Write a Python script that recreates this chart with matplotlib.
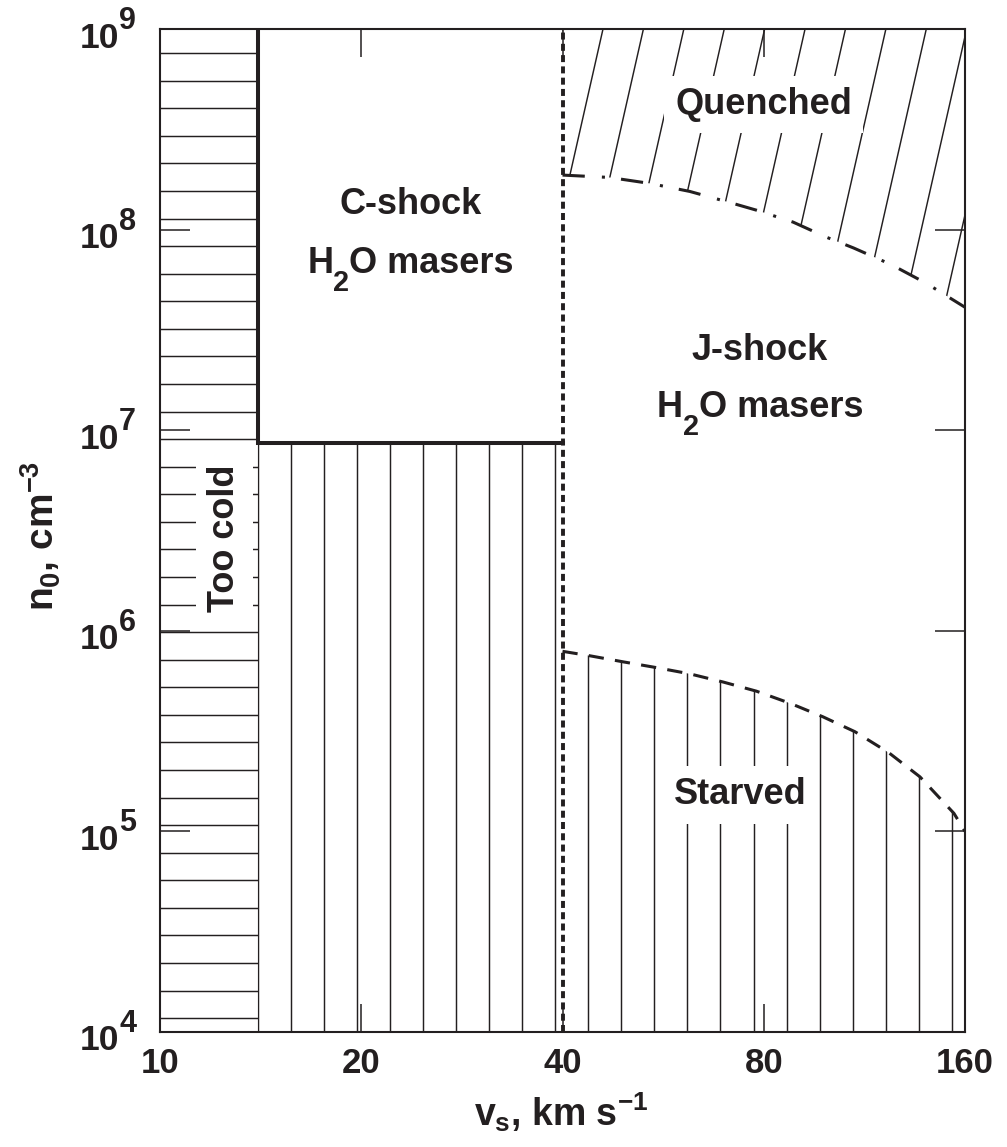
import matplotlib.pyplot as plt
import numpy as np
from matplotlib.patches import Polygon
from matplotlib.ticker import NullLocator

plt.rcParams['font.family'] = 'Liberation Sans'
plt.rcParams['font.weight'] = 'bold'
plt.rcParams['axes.labelweight'] = 'bold'
plt.rcParams['mathtext.fontset'] = 'custom'
for k in ('rm', 'it', 'bf', 'sf'):
    plt.rcParams['mathtext.' + k] = 'Liberation Sans:bold'

INK = '#231f20'

# axes
v_ticks = [10, 20, 40, 80, 160]
n_exps = [4, 5, 6, 7, 8, 9]
n_ticks = [10.0 ** e for e in n_exps]

# region boundaries
v_cold = 14.0     # below this: too cold
v_cj = 40.0       # C-shock / J-shock transition
n_cmax = 8.6e6    # C-shock masers only above this density

# quenched boundary (upper limit for J-shock masers)
quench_v = [40, 47, 54, 62, 72, 78, 88.5, 99, 109, 124, 140, 160]
quench_n = [1.87e8, 1.82e8, 1.70e8, 1.55e8, 1.35e8, 1.25e8, 1.09e8,
            9.2e7, 8.1e7, 6.7e7, 5.4e7, 4.1e7]

# starved boundary (lower limit for J-shock masers)
starve_v = [40, 44, 49.3, 55.3, 62, 69.6, 78, 87.6, 98, 109.5, 123, 137, 154, 160]
starve_n = [7.9e5, 7.5e5, 7.0e5, 6.55e5, 6.1e5, 5.55e5, 5.0e5, 4.35e5,
            3.73e5, 3.14e5, 2.47e5, 1.87e5, 1.23e5, 1.0e5]

fig = plt.figure(figsize=(10.07, 11.47), dpi=100)
ax = fig.add_axes([0.1589, 0.1003, 0.7994, 0.8744])
ax.set_xscale('log')
ax.set_yscale('log')
ax.set_xlim(v_ticks[0], v_ticks[-1])
ax.set_ylim(n_ticks[0], n_ticks[-1])

PX = 0.72  # points per pixel at 100 dpi
rend = fig.canvas.get_renderer()


def xfrac(v):
    return np.log(v / v_ticks[0]) / np.log(v_ticks[-1] / v_ticks[0])


def hatch(poly, segs):
    # hatch lines drawn in axes coords, clipped to the region
    ax.add_patch(poly)
    for (x0, y0), (x1, y1) in segs:
        ln, = ax.plot([x0, x1], [y0, y1], transform=ax.transAxes,
                      color=INK, lw=1.05, zorder=1, solid_capstyle='butt')
        ln.set_clip_path(poly)


def text_w(s, size):
    t = fig.text(0, 0, s, fontsize=size, fontweight='bold')
    w = t.get_window_extent(rend).width
    t.remove()
    return w


def h2o_label(v, n, size=26):
    # "H2O masers" with a large, low subscript; (v, n) is the baseline centre
    parts = [('H', size, 0), ('2', size * 0.8, -18), ('O masers', size, 0)]
    widths = [text_w(s, sz) for s, sz, _ in parts]
    x = -sum(widths) / 2
    for (s, sz, dy), w in zip(parts, widths):
        ax.annotate(s, xy=(v, n), xytext=(x * PX, dy * PX), textcoords='offset points',
                    ha='left', va='baseline', fontsize=sz, fontweight='bold', color=INK)
        x += w


nmin, nmax = n_ticks[0], n_ticks[-1]
vmin, vmax = v_ticks[0], v_ticks[-1]

# too cold: horizontal hatch
cold = Polygon([(vmin, nmin), (v_cold, nmin), (v_cold, nmax), (vmin, nmax)],
               closed=True, fill=False, edgecolor='none')
hatch(cold, [((0, y), (1, y)) for y in np.arange(0.01376, 1, 0.02749)])

# no masers below: vertical hatch
low_pts = ([(v_cold, nmin), (vmax, nmin)]
           + list(zip(starve_v[::-1], starve_n[::-1]))
           + [(v_cj, n_cmax), (v_cold, n_cmax)])
low = Polygon(low_pts, closed=True, fill=False, edgecolor='none')
hatch(low, [((x, 0), (x, 1)) for x in np.arange(xfrac(v_cold), 1, 0.04106)])

# quenched: slanted hatch
q_pts = [(v_cj, nmax), (vmax, nmax)] + list(zip(quench_v[::-1], quench_n[::-1]))
quen = Polygon(q_pts, closed=True, fill=False, edgecolor='none')
slope = 0.2822
hatch(quen, [((xt, 1), (xt - slope, 0)) for xt in 0.5503 + 0.0502 * np.arange(-3, 14)])

# boundaries
ax.plot([v_cold, v_cold, v_cj], [nmax, n_cmax, n_cmax], color=INK, lw=2.9,
        solid_joinstyle='miter', zorder=4)
ax.axvline(v_cj, color=INK, lw=2.8, ls=(0, (1.8, 1.1)), zorder=4)
ax.plot(quench_v, quench_n, color=INK, lw=2.2, ls=(0, (7.3, 5.6, 1.0, 5.3)), zorder=4)
ax.plot(starve_v, starve_n, color=INK, lw=2.2, ls=(0, (5.0, 3.7)), zorder=4)

# region labels
box = dict(facecolor='white', edgecolor='none', pad=8)
tk = dict(ha='center', va='center', fontsize=26, color=INK, fontweight='bold')
ax.text(80, 4.2e8, 'Quenched', bbox=box, **tk)
ax.text(23.7, 1.33e8, 'C-shock', **tk)
h2o_label(23.7, 6.1e7)
ax.text(79, 2.5e7, 'J-shock', **tk)
h2o_label(79, 1.17e7)
ax.text(73.7, 1.52e5, 'Starved', bbox=box, **tk)
ax.text(12.5, 2.9e6, 'Too cold', rotation=90, bbox=box, **tk)

# axes styling
ax.set_xticks(v_ticks)
ax.set_xticklabels([str(v) for v in v_ticks])
ax.set_yticks(n_ticks)
ax.xaxis.set_minor_locator(NullLocator())
ax.yaxis.set_minor_locator(NullLocator())
ax.tick_params(axis='x', direction='in', length=20, width=1.1, top=True,
               labelsize=25, pad=11, colors=INK)
ax.tick_params(axis='y', direction='in', length=21.6, width=1.1, right=True,
               labelleft=False, colors=INK)
for s in ax.spines.values():
    s.set_linewidth(1.5)
    s.set_color(INK)

# y tick labels: 10 with a large exponent
for e, n in zip(n_exps, n_ticks):
    ax.annotate('10', xy=(0, n), xycoords=('axes fraction', 'data'),
                xytext=(-41 * PX, -18.5 * PX), textcoords='offset points',
                ha='right', va='baseline', fontsize=25.5, fontweight='bold',
                color=INK, annotation_clip=False)
    ax.annotate(str(e), xy=(0, n), xycoords=('axes fraction', 'data'),
                xytext=(-41 * PX, 0), textcoords='offset points',
                ha='left', va='baseline', fontsize=22, fontweight='bold',
                color=INK, annotation_clip=False)

ax.set_xlabel(r'$v_s$, km s$^{-1}$', fontsize=27, color=INK)
ax.set_ylabel(r'$n_0$, cm$^{-3}$', fontsize=28, color=INK)
ax.xaxis.set_label_coords(0.498, -0.058)
ax.yaxis.set_label_coords(-0.1205, 0.495)

fig.savefig('out.png', dpi=100)
